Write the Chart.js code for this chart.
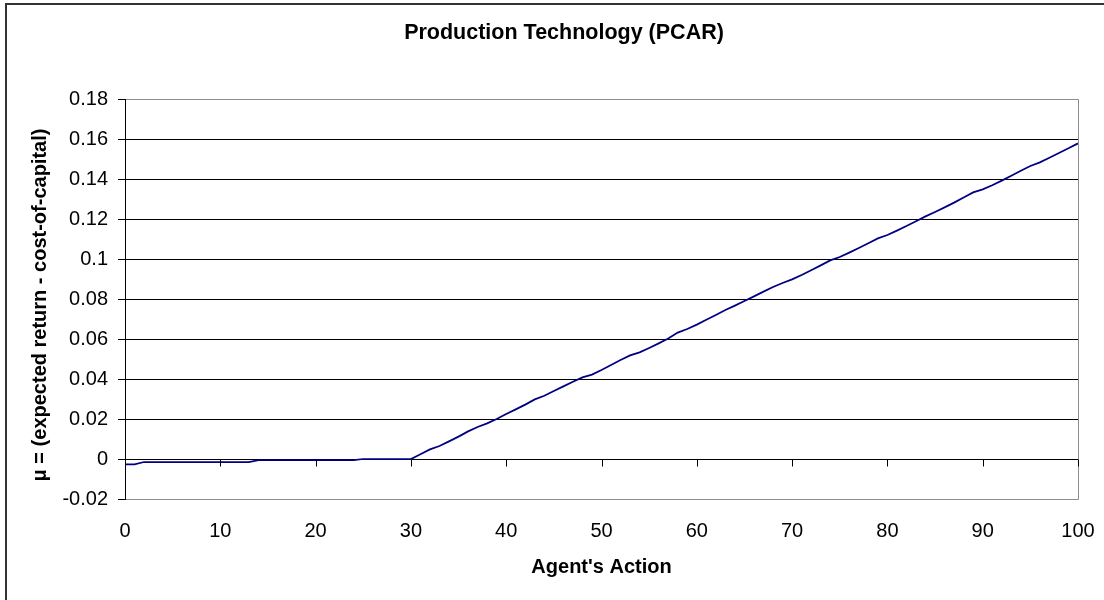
<!DOCTYPE html>
<html>
<head>
<meta charset="utf-8">
<script src="https://cdn.jsdelivr.net/npm/chart.js@4.4.0/dist/chart.umd.min.js"></script>
<style>
html,body{margin:0;padding:0;background:#fff;}
#wrap{width:1104px;height:600px;position:relative;}
</style>
</head>
<body>
<div id="wrap"><canvas id="c" width="1104" height="600"></canvas></div>
<script>
const chartTitle = "Production Technology (PCAR)";
const xTitle = "Agent's Action";
const yTitle = "μ = (expected return - cost-of-capital)";

const actions = [0,1,2,3,4,5,6,7,8,9,10,11,12,13,14,15,16,17,18,19,20,21,22,23,24,25,26,27,28,29,30,31,32,33,34,35,36,37,38,39,40,41,42,43,44,45,46,47,48,49,50,51,52,53,54,55,56,57,58,59,60,61,62,63,64,65,66,67,68,69,70,71,72,73,74,75,76,77,78,79,80,81,82,83,84,85,86,87,88,89,90,91,92,93,94,95,96,97,98,99,100];
const mu = [
 -0.0027,-0.0027,-0.0015,-0.0015,-0.0015,-0.0015,-0.0015,-0.0015,-0.0015,-0.0015,
 -0.0015,-0.0015,-0.0015,-0.0015,-0.0006,-0.0006,-0.0006,-0.0006,-0.0006,-0.0006,
 -0.0006,-0.0006,-0.0006,-0.0006,-0.0006,0,0,0,0,0,
 0,0.0024,0.0048,0.0065,0.0088,0.0112,0.0138,0.0160,0.0178,0.0200,
 0.0225,0.0248,0.0272,0.0298,0.0316,0.0340,0.0363,0.0386,0.0408,0.0422,
 0.0445,0.0470,0.0495,0.0518,0.0533,0.0555,0.0578,0.0602,0.0632,0.0650,
 0.0672,0.0696,0.0720,0.0745,0.0767,0.0790,0.0813,0.0837,0.0860,0.0880,
 0.0898,0.0920,0.0944,0.0968,0.0993,0.1010,0.1032,0.1055,0.1079,0.1103,
 0.1120,0.1142,0.1165,0.1189,0.1213,0.1235,0.1258,0.1282,0.1308,0.1333,
 0.1348,0.1369,0.1392,0.1416,0.1441,0.1465,0.1483,0.1506,0.1530,0.1554,
 0.1578
];
const xTickValues = [0,10,20,30,40,50,60,70,80,90,100];

const FONT = "'Liberation Sans', Arial, sans-serif";

const decor = {
  id: 'decor',
  afterDraw(chart) {
    const ctx = chart.ctx;
    const a = chart.chartArea;
    const xs = chart.scales.x, ys = chart.scales.y;
    ctx.save();
    // outer frame (top & left visible)
    ctx.fillStyle = '#333';
    ctx.fillRect(5, 3, 1099, 2);
    ctx.fillRect(5, 3, 2, 597);
    // plot border (gray)
    ctx.strokeStyle = '#8c8c8c';
    ctx.lineWidth = 1;
    ctx.beginPath();
    ctx.moveTo(a.left, a.top + 0.5); ctx.lineTo(a.right + 0.5, a.top + 0.5);
    ctx.lineTo(a.right + 0.5, a.bottom + 0.5); ctx.lineTo(a.left, a.bottom + 0.5);
    ctx.stroke();
    // left axis line
    ctx.strokeStyle = '#000';
    ctx.beginPath();
    ctx.moveTo(a.left + 0.5, a.top); ctx.lineTo(a.left + 0.5, a.bottom + 1);
    ctx.stroke();
    // x ticks at zero line
    const y0 = Math.round(ys.getPixelForValue(0)) + 0.5;
    ctx.beginPath();
    xTickValues.forEach(v => {
      const px = Math.round(xs.getPixelForValue(v)) + 0.5;
      ctx.moveTo(px, y0); ctx.lineTo(px, y0 + 7);
    });
    ctx.stroke();
    // title
    ctx.fillStyle = '#000';
    ctx.font = "bold 21.5px " + FONT;
    ctx.textAlign = 'center';
    ctx.textBaseline = 'middle';
    ctx.fillText(chartTitle, 564, 33);
    // y axis title
    ctx.save();
    ctx.translate(40, 305);
    ctx.rotate(-Math.PI / 2);
    ctx.font = "bold 20px " + FONT;
    ctx.fillText(yTitle, 0, 0);
    ctx.restore();
    ctx.restore();
  }
};

new Chart(document.getElementById('c'), {
  type: 'line',
  data: {
    datasets: [{
      data: actions.map((x, i) => ({x: x, y: mu[i]})),
      borderColor: '#000080',
      borderWidth: 1.75,
      pointRadius: 0,
      tension: 0,
      fill: false
    }]
  },
  options: {
    responsive: false,
    animation: false,
    devicePixelRatio: 1,
    layout: { padding: { left: 0, right: 26, top: 99, bottom: 0 } },
    plugins: { legend: { display: false }, tooltip: { enabled: false }, title: { display: false } },
    scales: {
      x: {
        type: 'linear',
        min: 0, max: 100,
        afterFit(s) { s.height = 101; s.paddingLeft = 0; s.paddingRight = 0; },
        afterBuildTicks(s) { s.ticks = xTickValues.map(v => ({value: v})); },
        grid: { display: false, drawTicks: false },
        border: { display: false },
        ticks: { color: '#000', font: { family: FONT, size: 20 }, padding: 20, maxRotation: 0, autoSkip: false },
        title: { display: true, text: xTitle, color: '#000', font: { family: FONT, size: 20, weight: 'bold' }, padding: { top: 0, bottom: 21 } }
      },
      y: {
        min: -0.02, max: 0.18,
        afterFit(s) { s.width = 125; s.paddingTop = 0; s.paddingBottom = 0; },
        ticks: {
          stepSize: 0.02, color: '#000', padding: 10,
          font: { family: FONT, size: 20 },
          callback: v => String(+Number(v).toFixed(2))
        },
        grid: {
          color: c => (Math.abs(c.tick.value - 0.18) < 1e-9 || Math.abs(c.tick.value + 0.02) < 1e-9) ? '#8c8c8c' : '#000',
          tickColor: '#000', tickLength: 7, lineWidth: 1
        },
        border: { display: true, color: '#000' },
        title: { display: false }
      }
    }
  },
  plugins: [decor]
});
</script>
</body>
</html>
